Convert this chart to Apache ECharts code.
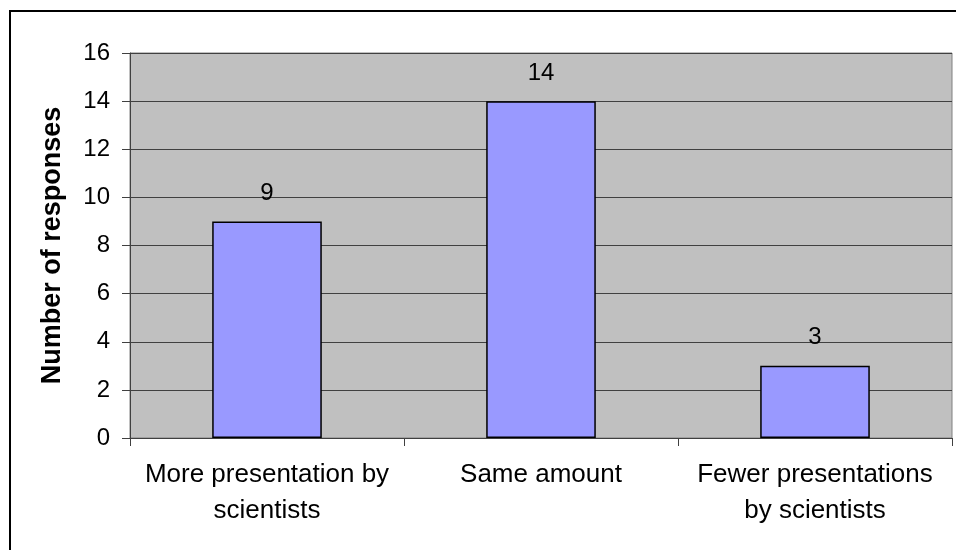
<!DOCTYPE html>
<html><head><meta charset="utf-8">
<script src="https://cdn.jsdelivr.net/npm/echarts@6/dist/echarts.min.js"></script>
<style>html,body{margin:0;padding:0;background:#fff;}#c{width:956px;height:550px;}</style>
</head><body><div id="c"></div>
<script>
var categories = ['More presentation by\nscientists', 'Same amount', 'Fewer presentations\nby scientists'];
var values = [9, 14, 3];
var yMin = 0, yMax = 16, yStep = 2;
var yTitle = 'Number of responses';

var chart = echarts.init(document.getElementById('c'));
var font = 'Liberation Sans, Arial, sans-serif';
chart.setOption({
  animation: false,
  graphic: [{type:'rect', shape:{x:10,y:11,width:1000,height:600}, style:{fill:'none', stroke:'#000', lineWidth:2}, z:100}],
  grid: {left:130, top:53, right:4, bottom:112, show:true, backgroundColor:'#C0C0C0', borderColor:'#808080', borderWidth:1},
  xAxis: {
    type:'category', data:categories,
    axisLine:{show:true, lineStyle:{color:'#404040', width:1}},
    axisTick:{show:true, alignWithLabel:false, length:8, lineStyle:{color:'#404040'}},
    axisLabel:{fontFamily:font, fontSize:26, color:'#000', lineHeight:36, margin:19, interval:0}
  },
  yAxis: {
    type:'value', min:yMin, max:yMax, interval:yStep,
    name:yTitle, nameLocation:'middle', nameGap:64,
    nameTextStyle:{fontFamily:font, fontSize:27, fontWeight:'bold', color:'#000'},
    axisLine:{show:true, lineStyle:{color:'#404040', width:1}},
    axisTick:{show:true, length:8, lineStyle:{color:'#404040'}},
    axisLabel:{fontFamily:font, fontSize:24, color:'#000', margin:20},
    splitLine:{show:true, lineStyle:{color:'#404040', width:1}}
  },
  series: [{
    type:'bar', data:values, barWidth:'40%',
    itemStyle:{color:'#9999FF', borderColor:'#000', borderWidth:1.5},
    label:{show:true, position:'top', distance:16, fontFamily:font, fontSize:24, color:'#000'}
  }]
});
</script></body></html>
